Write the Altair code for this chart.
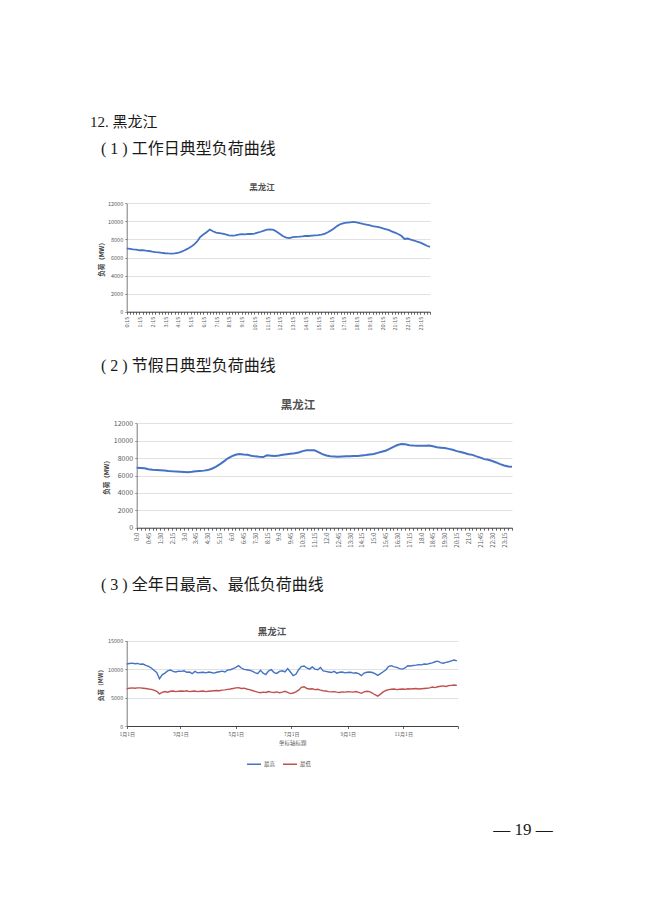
import json
import altair as alt
import pandas as pd

# ---------------- data read from the reference page ----------------
# (1) workday typical load curve, 15-minute points 0:15 ... 24:00 (MW)
WORKDAY = [
    7000, 6950, 6900, 6870, 6800, 6820, 6760, 6720, 6650, 6600,
    6560, 6520, 6470, 6450, 6440, 6460, 6500, 6620, 6780, 6950,
    7150, 7400, 7750, 8250, 8550, 8800, 9100, 8900, 8750, 8700,
    8650, 8550, 8450, 8420, 8450, 8530, 8580, 8560, 8620, 8600,
    8650, 8750, 8850, 8980, 9080, 9120, 9050, 8850, 8600, 8350,
    8200, 8150, 8250, 8280, 8300, 8330, 8390, 8380, 8420, 8450,
    8480, 8520, 8620, 8800, 9000, 9250, 9500, 9700, 9800, 9850,
    9900, 9950, 9900, 9800, 9720, 9650, 9580, 9480, 9420, 9350,
    9250, 9150, 9050, 8900, 8750, 8600, 8400, 8050, 8100, 7980,
    7880, 7750, 7650, 7480, 7300, 7180,
]
WORKDAY_LABELS = ["0:15", "1:15", "2:15", "3:15", "4:15", "5:15", "6:15", "7:15",
                  "8:15", "9:15", "10:15", "11:15", "12:15", "13:15", "14:15", "15:15",
                  "16:15", "17:15", "18:15", "19:15", "20:15", "21:15", "22:15", "23:15"]

# (2) holiday typical load curve, 15-minute points 0:00 ... 23:45 (MW)
HOLIDAY = [
    6880, 6850, 6820, 6720, 6650, 6620, 6600, 6580, 6520, 6480,
    6460, 6430, 6400, 6380, 6420, 6480, 6520, 6560, 6620, 6780,
    7000, 7280, 7600, 7950, 8200, 8380, 8480, 8420, 8380, 8280,
    8200, 8150, 8120, 8320, 8280, 8240, 8300, 8380, 8450, 8500,
    8550, 8650, 8800, 8900, 8900, 8900, 8680, 8450, 8300, 8220,
    8180, 8150, 8170, 8200, 8220, 8250, 8250, 8300, 8350, 8420,
    8480, 8600, 8720, 8850, 9050, 9300, 9500, 9620, 9600, 9480,
    9440, 9420, 9410, 9420, 9440, 9350, 9260, 9200, 9150, 9060,
    8950, 8800, 8700, 8580, 8450, 8370, 8200, 8050, 7880, 7800,
    7670, 7500, 7300, 7150, 7040, 7000,
]
HOLIDAY_LABELS = ["0:0", "0:45", "1:30", "2:15", "3:0", "3:45", "4:30", "5:15",
                  "6:0", "6:45", "7:30", "8:15", "9:0", "9:45", "10:30", "11:15",
                  "12:0", "12:45", "13:30", "14:15", "15:0", "15:45", "16:30", "17:15",
                  "18:0", "18:45", "19:30", "20:15", "21:0", "21:45", "22:30", "23:15"]

# (3) daily maximum / minimum over the year, read every 3rd day (day of year 0..363)
YEAR_DAYS = list(range(0, 364, 3))
YEAR_MAX = [
    10900, 11000, 11050, 10950, 11000, 10850, 10900, 10650, 10500, 10200,
    9800, 9400, 8300, 9000, 9300, 9700, 9850, 9600, 9500, 9650,
    9600, 9700, 9450, 9500, 9200, 9600, 9350, 9400, 9450, 9350,
    9500, 9400, 9300, 9450, 9550, 9650, 9500, 9850, 9900, 10100,
    10300, 10600, 10200, 9950, 9900, 9800, 9650, 9400, 9200, 9800,
    9300, 9050, 9700, 9900, 9400, 9250, 9600, 9700, 9500, 10100,
    9500, 8850, 9100, 9900, 10450, 10550, 10200, 10000, 10400, 10000,
    9900, 10300, 9700, 9600, 9500, 9400, 9600, 9300, 9450, 9500,
    9350, 9400, 9450, 9300, 9350, 9200, 8850, 9300, 9450, 9500,
    9400, 9200, 8900, 9200, 9550, 9900, 10500, 10600, 10400, 10300,
    10100, 10000, 10200, 10600, 10550, 10650, 10700, 10800, 10750, 10900,
    10850, 11000, 11100, 11300, 11400, 11150, 11050, 11200, 11300, 11450,
    11600, 11450,
]
YEAR_MIN = [
    6550, 6650, 6700, 6650, 6700, 6700, 6650, 6600, 6500, 6450,
    6300, 6100, 5650, 5900, 6050, 5950, 6100, 6150, 6050, 6100,
    6150, 6100, 6200, 6050, 6100, 6150, 6050, 6100, 6150, 6050,
    6100, 6150, 6200, 6250, 6200, 6300, 6350, 6450, 6500, 6600,
    6700, 6750, 6600, 6650, 6500, 6400, 6250, 6100, 5950, 5850,
    5950, 5900, 6050, 5950, 5900, 6000, 5850, 5950, 6100, 5900,
    5700, 5800, 6000, 6300, 6800, 6900, 6600, 6500, 6550, 6400,
    6450, 6300, 6200, 6150, 6050, 6000, 6050, 5950, 5900, 6000,
    5950, 6050, 6000, 5950, 6050, 5900, 5750, 6000, 6100, 6050,
    5800, 5500, 5250, 5600, 6000, 6250, 6400, 6450, 6500, 6400,
    6450, 6500, 6450, 6550, 6500, 6550, 6600, 6500, 6550, 6600,
    6650, 6700, 6850, 6750, 6900, 7000, 7050, 6950, 7100, 7150,
    7200, 7150,
]
MONTH_TICKS = [0, 59, 120, 181, 243, 304, 364]
MONTH_LABELS = ["1月1日", "3月1日", "5月1日", "7月1日", "9月1日", "11月1日", ""]
SERIES_NAMES = ["最高", "最低"]

CHART_TITLE = "黑龙江"
Y_TITLE = "负荷（MW）"
X3_TITLE = "坐标轴标题"
HEADINGS = ["12. 黑龙江", "( 1 ) 工作日典型负荷曲线", "( 2 ) 节假日典型负荷曲线",
            "( 3 ) 全年日最高、最低负荷曲线"]
PAGE_NO = "— 19 —"

# ---------------- layout / style ----------------
M = 8                     # page margin
W, H = 634, 903           # drawing area (page minus margins)
CJK = "Noto Sans CJK SC"
SERIF = "Liberation Serif, Noto Sans CJK SC"
BLUE = "#4472C4"
RED = "#C0504D"
GRID = "#D9D9D9"
LABEL = "#595959"
AXISC = "#595959"


def p(v):
    return v - M


def text_layer(content, x, y, size, font=CJK, weight="normal", color="#000000", align="left"):
    return alt.Chart(pd.DataFrame({"t": [content]})).mark_text(
        align=align, baseline="middle", font=font, fontSize=size,
        fontWeight=weight, color=color,
    ).encode(x=alt.value(p(x)), y=alt.value(p(y)), text="t:N")


def y_axis(x0, values, label_size, title_size, title_pad):
    return alt.Axis(
        orient="left", offset=-p(x0), values=values, format="d",
        labelFont=CJK, labelFontSize=label_size, labelColor=LABEL, labelPadding=2,
        tickSize=2, tickColor=AXISC, tickWidth=0.6,
        domainColor=AXISC, domainWidth=0.8,
        grid=True, gridColor=GRID, gridWidth=0.8,
        title=Y_TITLE, titleFont=CJK, titleFontSize=title_size, titleFontWeight="bold",
        titleColor="#404040", titlePadding=title_pad,
    )


def daily_curve(values, labels, step, x0, x1, y0, y1, label_size, ylabel_size,
                title_size, title_pad, stroke):
    n = len(values)
    df = pd.DataFrame({"i": list(range(n)), "load": values})
    expr = ("datum.value % {s} == 0 ? {arr}[datum.value / {s}] : ''"
            .format(s=step, arr=json.dumps(labels, ensure_ascii=False)))
    x = alt.X(
        "i:Q",
        scale=alt.Scale(domain=[0, n - 1], range=[p(x0), p(x1)], nice=False, zero=False),
        axis=alt.Axis(
            orient="bottom", offset=p(y0) - H, values=list(range(n)), labelExpr=expr,
            labelAngle=-90, labelFont=CJK, labelFontSize=label_size, labelColor=LABEL,
            labelPadding=2, labelOverlap=False, labelFlush=False, labelBound=False,
            tickSize=2.5, tickColor="#404040", tickWidth=0.8,
            domainColor="#404040", domainWidth=1, grid=False, title=None,
        ),
    )
    y = alt.Y(
        "load:Q",
        scale=alt.Scale(domain=[0, 12000], range=[p(y0), p(y1)], nice=False, zero=False),
        axis=y_axis(x0, [0, 2000, 4000, 6000, 8000, 10000, 12000], ylabel_size,
                    title_size, title_pad),
    )
    return alt.Chart(df).mark_line(color=BLUE, strokeWidth=stroke).encode(x=x, y=y)


# chart 1 : workday
c1 = daily_curve(WORKDAY, WORKDAY_LABELS, 4, 126.7, 430, 311.7, 203.3,
                 5.5, 5.5, 6.5, 3, 1.8)
# chart 2 : holiday
c2 = daily_curve(HOLIDAY, HOLIDAY_LABELS, 3, 136.7, 512, 527.7, 423.3,
                 6, 7, 6.5, 4, 2)

# chart 3 : yearly max/min
year_df = pd.concat([
    pd.DataFrame({"day": YEAR_DAYS, "load": YEAR_MAX, "series": SERIES_NAMES[0]}),
    pd.DataFrame({"day": YEAR_DAYS, "load": YEAR_MIN, "series": SERIES_NAMES[1]}),
])
month_expr = "{lab}[indexof({tk}, datum.value)]".format(
    lab=json.dumps(MONTH_LABELS, ensure_ascii=False), tk=json.dumps(MONTH_TICKS))
c3 = alt.Chart(year_df).mark_line(strokeWidth=1.4).encode(
    x=alt.X(
        "day:Q",
        scale=alt.Scale(domain=[0, 364], range=[p(126.7), p(457.8)], nice=False, zero=False),
        axis=alt.Axis(
            orient="bottom", offset=p(726) - H, values=MONTH_TICKS, labelExpr=month_expr,
            labelAngle=0, labelFont=CJK, labelFontSize=5, labelColor=LABEL, labelPadding=3,
            labelOverlap=False, labelFlush=False, labelBound=False,
            tickSize=2.5, tickColor="#404040", tickWidth=0.8,
            domainColor="#404040", domainWidth=1, grid=False,
            title=X3_TITLE, titleFont=CJK, titleFontSize=5.5, titleFontWeight="normal",
            titleColor=LABEL, titlePadding=4,
        ),
    ),
    y=alt.Y(
        "load:Q",
        scale=alt.Scale(domain=[0, 15000], range=[p(726), p(640.7)], nice=False, zero=False),
        axis=y_axis(126.7, [0, 5000, 10000, 15000], 5.5, 6, 4),
    ),
    color=alt.Color(
        "series:N",
        scale=alt.Scale(domain=SERIES_NAMES, range=[BLUE, RED]),
        legend=alt.Legend(
            orient="none", legendX=p(246), legendY=p(756), direction="horizontal",
            title=None, symbolType="stroke", symbolSize=196, symbolStrokeWidth=1.5,
            labelFont=CJK, labelFontSize=5.5, labelColor=LABEL, labelOffset=2,
            columnPadding=4, padding=0,
        ),
    ),
)

texts = [
    text_layer(HEADINGS[0], 90, 122, 15, font=SERIF, color="#1a1a1a"),
    text_layer(HEADINGS[1], 101, 149, 16, font=SERIF, color="#1a1a1a"),
    text_layer(HEADINGS[2], 101, 366, 16, font=SERIF, color="#1a1a1a"),
    text_layer(HEADINGS[3], 101, 585, 16, font=SERIF, color="#1a1a1a"),
    text_layer(CHART_TITLE, 262, 187, 8.5, weight="bold", color="#505050", align="center"),
    text_layer(CHART_TITLE, 298, 406, 11.5, weight="bold", color="#505050", align="center"),
    text_layer(CHART_TITLE, 272, 632, 9.5, weight="bold", color="#505050", align="center"),
    text_layer(PAGE_NO, 523, 830, 17, font=SERIF, color="#1a1a1a", align="center"),
]

chart = alt.layer(c1, c2, c3, *texts).properties(
    width=W, height=H, padding=0, background="white",
    autosize=alt.AutoSizeParams(type="none"),
).resolve_scale(
    x="independent", y="independent", color="independent"
).resolve_axis(
    x="independent", y="independent"
).configure_view(stroke=None)

chart.save("out.html", embed_options={"renderer": "svg", "actions": False})
